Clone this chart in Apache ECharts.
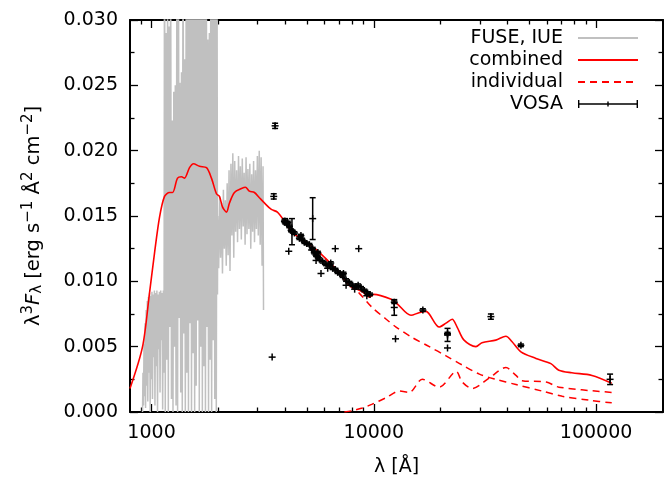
<!DOCTYPE html>
<html><head><meta charset="utf-8">
<script src="https://cdn.jsdelivr.net/npm/echarts@6/dist/echarts.min.js"></script>
<style>html,body{margin:0;padding:0;background:#fff}#c{width:664px;height:483px}</style>
</head><body><div id="c"></div>
<script>
// ---- data (wavelength in Angstrom, flux lambda^3 F_lambda) ----
const fuseIue = [
 [911,0.0000],[915,0.0030],[920,0.0005],[925,0.0052],[930,0.0012],[935,0.0068],[940,0.0003],[946,0.0078],
 [951,0.0020],[957,0.0085],[962,0.0008],[968,0.0088],[974,0.0030],[980,0.0091],[986,0.0000],[992,0.0089],
 [998,0.0025],[1004,0.0092],[1010,0.0010],[1017,0.0090],[1023,0.0042],[1030,0.0093],[1036,0.0005],[1043,0.0091],
 [1050,0.0035],[1057,0.0093],[1064,0.0000],[1071,0.0090],[1078,0.0048],[1085,0.0092],[1092,0.0015],[1100,0.0093],
 [1107,0.0055],[1115,0.0091],[1122,0.0002],[1130,0.0093],[1138,0.0030],[1144,0.0420],
 [1153,0.0000],[1162,0.0290],[1172,0.0040],[1181,0.0330],[1190,0.0000],[1200,0.0295],[1209,0.0065],[1219,0.0360],
 [1229,0.0010],[1239,0.0223],[1249,0.0000],[1259,0.0245],[1269,0.0050],[1279,0.0250],[1289,0.0005],[1300,0.0340],
 [1310,0.0000],[1321,0.0380],[1331,0.0072],[1342,0.0252],[1353,0.0015],[1364,0.0260],[1375,0.0000],[1386,0.0400],
 [1397,0.0060],[1408,0.0270],[1419,0.0000],[1431,0.0310],[1442,0.0030],[1454,0.0420],[1466,0.0000],[1477,0.0400],
 [1489,0.0068],[1501,0.0450],[1513,0.0000],[1526,0.0380],[1538,0.0045],[1550,0.0420],[1563,0.0000],[1575,0.0350],
 [1588,0.0020],[1601,0.0440],[1614,0.0070],[1627,0.0390],[1640,0.0000],[1653,0.0410],[1666,0.0050],[1680,0.0370],
 [1693,0.0000],[1707,0.0430],[1721,0.0035],[1734,0.0360],[1748,0.0000],[1762,0.0400],[1777,0.0065],[1791,0.0285],
 [1805,0.0000],[1820,0.0290],[1835,0.0040],[1849,0.0380],[1864,0.0000],[1879,0.0330],[1894,0.0055],[1910,0.0350],
 [1925,0.0010],[1940,0.0310],[1956,0.0000],[1972,0.0320],[1980,0.0090],
 [1985,0.0150],[2005,0.0110],[2025,0.0165],[2045,0.0118],[2065,0.0160],[2085,0.0106],[2105,0.0170],[2126,0.0125],
 [2147,0.0162],[2168,0.0112],[2189,0.0175],[2211,0.0120],[2232,0.0185],[2254,0.0108],[2276,0.0190],[2299,0.0135],
 [2321,0.0198],[2344,0.0118],[2367,0.0192],[2390,0.0138],[2414,0.0185],[2438,0.0130],[2462,0.0196],[2486,0.0140],
 [2510,0.0188],[2535,0.0132],[2560,0.0194],[2585,0.0142],[2610,0.0183],[2636,0.0128],[2662,0.0195],[2688,0.0136],
 [2714,0.0186],[2741,0.0140],[2768,0.0190],[2795,0.0125],[2822,0.0182],[2850,0.0138],[2878,0.0192],[2906,0.0130],
 [2935,0.0185],[2963,0.0140],[2993,0.0196],[3022,0.0135],[3052,0.0200],[3082,0.0128],[3112,0.0195],[3143,0.0112],
 [3174,0.0188],[3190,0.0078]
];
const combined = [
 [800,0.0018],[911,0.0050],[979,0.0091],[1032,0.0122],[1086,0.0149],[1144,0.0165],[1205,0.0168],[1243,0.0168],
 [1309,0.0179],[1364,0.0180],[1407,0.0179],[1482,0.0187],[1544,0.0190],[1644,0.0188],[1767,0.0187],[1860,0.0179],
 [1959,0.0167],[2021,0.0165],[2085,0.0157],[2173,0.0153],[2242,0.0160],[2360,0.0168],[2539,0.0171],[2645,0.0172],
 [2756,0.0169],[2903,0.0168],[3056,0.0164],[3219,0.0160],[3459,0.0155],[3683,0.0153],[3960,0.0146],[4295,0.0137],
 [4487,0.0135],[5517,0.0124],[6782,0.0109],[7762,0.0097],[8894,0.0092],[9559,0.0088],[10000,0.0090],[12085,0.0086],
 [12716,0.0083],[14700,0.0074],[15960,0.0076],[17150,0.0077],[19680,0.0065],[21120,0.0068],[22520,0.0071],[23700,0.0065],
 [25460,0.0055],[28800,0.0050],[30660,0.0053],[35370,0.0055],[39290,0.0058],[41790,0.0054],[45890,0.0046],[53630,0.0041],
 [62600,0.0037],[67970,0.0032],[77750,0.0030],[95800,0.0028],[117600,0.0022]
];
const individualHot = [
 [5517,0.0124],[6782,0.0109],[7762,0.0097],[8590,0.0091],[9835,0.0080],[11370,0.0071],[12590,0.0065],[14880,0.0057],
 [17770,0.0050],[21120,0.0043],[24970,0.0036],[29840,0.0029],[35370,0.0025],[43600,0.0021],[57190,0.0016],[70460,0.0012],
 [93230,0.0009],[117600,0.0007]
];
const individualCool = [
 [7370,0.0000],[8007,0.0001],[8878,0.0003],[9835,0.0006],[11370,0.0011],[13020,0.0016],[14440,0.0015],[16520,0.0025],
 [19680,0.0019],[23490,0.0031],[24970,0.0023],[27710,0.0018],[33040,0.0026],[39290,0.0034],[43600,0.0028],[46490,0.0024],
 [59620,0.0023],[67970,0.0019],[117600,0.0015]
];
const vosaLambda = [3597,3546,3488,4143,3990,4283,5308,6707,8552,5786,
 3961,4057,4171,4246,4317,4393,4626,4757,4872,4989,5130,5308,5403,5498,5589,5689,5886,6098,6310,6529,6714,6875,7048,7240,7503,7762,8031,8318,8759,9066,9378,9614,
 5498,7503,5250,6200,8200,9300,4100,4700,5600,6400,7300,8500,
 12360,12360,12520,16620,21460,21460,21460,33630,45900,115600];
const vosaFlux = [0.0219,0.0165,0.0042,0.0123,0.0146,0.0138,0.0148,0.0125,0.0125,0.0106,
 0.0146,0.0144,0.0142,0.0139,0.0138,0.0137,0.0133,0.0132,0.0130,0.0129,0.0128,0.0125,0.0122,0.0120,0.0119,0.0117,0.0115,0.0113,0.0112,0.0110,0.0109,0.0107,0.0106,0.0104,0.0101,0.0099,0.0097,0.0096,0.0095,0.0093,0.0091,0.0090,
 0.0116,0.0097,0.0124,0.0110,0.0094,0.0089,0.0145,0.0135,0.0122,0.0114,0.0106,0.0097,
 0.0084,0.0080,0.0056,0.0078,0.0059,0.0049,0.0060,0.0073,0.0051,0.0025];
const vosaErr = [0.0002,0.0002,0,0,0.0002,0.0010,0.0016,0,0,0,
 0.0001,0.0001,0.0001,0.0001,0.0001,0.0001,0.0001,0.0001,0.0001,0.0001,0.0001,0.0001,0.0001,0.0001,0.0001,0.0001,0.0001,0.0001,0.0001,0.0001,0.0001,0.0001,0.0001,0.0001,0.0001,0.0001,0.0001,0.0001,0.0001,0.0001,0.0001,0.0001,
 0,0,0,0,0,0,0.0001,0.0001,0.0001,0.0001,0.0001,0.0001,
 0.0001,0.0006,0,0.0001,0.0005,0,0.0001,0.0002,0.0001,0.0004];
const xMajorTicks = [1000,10000,100000];
const xMinorTicks = [900,2000,3000,4000,5000,6000,7000,8000,9000,20000,30000,40000,50000,60000,70000,80000,90000,200000];

// ---- chart ----
const FONT = 'DejaVu Sans';
const TICK = '#000';
const chart = echarts.init(document.getElementById('c'), null, {renderer:'canvas'});
const frame = {show:true, onZero:false, lineStyle:{color:'#000', width:2}};
const noLine = {show:false, onZero:false};
const xBase = {type:'log', logBase:10, min:800, max:200000, gridIndex:0, splitLine:{show:false}, minorTick:{show:false}, minorSplitLine:{show:false}};
const majorTick = {show:true, inside:true, length:8, customValues:xMajorTicks, lineStyle:{color:TICK, width:1.3}};
const minorTickX = {show:true, inside:true, length:4.5, customValues:xMinorTicks, lineStyle:{color:TICK, width:1.3}};
const yBase = {type:'value', min:0, max:0.03, interval:0.005, splitLine:{show:false}, axisLine:frame,
  axisTick:{show:true, inside:true, length:8, lineStyle:{color:TICK, width:1.3}},
  minorTick:{show:true, splitNumber:2, length:4.5, lineStyle:{color:TICK, width:1.3}}};

const vosaData = vosaLambda.map((l,i)=>[l, vosaFlux[i], vosaFlux[i]-vosaErr[i], vosaFlux[i]+vosaErr[i]]);
const noSym = {opacity:0};

chart.setOption({
  animation:false,
  backgroundColor:'#fff',
  grid:{left:130, right:1, top:20, bottom:71},
  legend:{
    orient:'vertical', align:'right', right:20, top:22, itemWidth:60, itemHeight:8, itemGap:0,
    textStyle:{fontFamily:FONT, fontSize:19, color:'#000', lineHeight:22, padding:[0,10,0,0]},
    data:[
      {name:'FUSE, IUE', itemStyle:noSym},
      {name:'combined', itemStyle:noSym},
      {name:'individual', itemStyle:noSym},
      {name:'VOSA', icon:'path://M0,3.3h60v1.4h-60z M0,0h1.4v8h-1.4z M29.3,1.5h1.4v5h-1.4z M58.6,0h1.4v8h-1.4z', itemStyle:{color:'#000'}}
    ]
  },
  xAxis:[
    Object.assign({}, xBase, {position:'bottom', axisLine:frame, axisTick:majorTick,
      axisLabel:{customValues:xMajorTicks, formatter:v=>String(Math.round(v)), margin:12, color:'#000', fontFamily:FONT, fontSize:19},
      name:'λ [Å]', nameLocation:'middle', nameGap:46, nameTextStyle:{fontFamily:FONT, fontSize:19, color:'#000'}}),
    Object.assign({}, xBase, {position:'top', axisLine:frame, axisTick:majorTick, axisLabel:{show:false}}),
    Object.assign({}, xBase, {position:'bottom', axisLine:noLine, axisTick:minorTickX, axisLabel:{show:false}}),
    Object.assign({}, xBase, {position:'top', axisLine:noLine, axisTick:minorTickX, axisLabel:{show:false}})
  ],
  yAxis:[
    Object.assign({}, yBase, {position:'left',
      axisLabel:{formatter:v=>v.toFixed(3), margin:12, color:'#000', fontFamily:FONT, fontSize:19},
      name:'{n|λ}{sup|3}{it|F}{sub|λ}{n| [erg s}{sup|−1}{n| Å}{sup|2}{n| cm}{sup|−2}{n|]}',
      nameLocation:'middle', nameGap:84,
      nameTextStyle:{fontFamily:FONT, fontSize:19, color:'#000',
        rich:{
          n:{fontFamily:FONT, fontSize:19.5, color:'#000'},
          it:{fontFamily:FONT, fontSize:19.5, color:'#000', fontStyle:'italic'},
          sup:{fontFamily:FONT, fontSize:15, color:'#000', padding:[0,0,10,0]},
          sub:{fontFamily:FONT, fontSize:15, color:'#000', padding:[8,0,0,0]}
        }}}),
    Object.assign({}, yBase, {position:'right', axisLabel:{show:false}})
  ],
  series:[
    {name:'FUSE, IUE', type:'line', xAxisIndex:0, yAxisIndex:0, data:fuseIue, symbol:'none', clip:true,
      lineStyle:{color:'#c0c0c0', width:1.5}, itemStyle:{color:'#c0c0c0'}, z:1},
    {name:'individual', type:'line', xAxisIndex:0, yAxisIndex:0, data:individualHot, symbol:'none', clip:true, smooth:0.3,
      lineStyle:{color:'#ff0000', width:1.5, type:[7,5]}, itemStyle:{color:'#ff0000'}, z:2},
    {name:'individual', type:'line', xAxisIndex:0, yAxisIndex:0, data:individualCool, symbol:'none', clip:true, smooth:0.3,
      lineStyle:{color:'#ff0000', width:1.5, type:[7,5]}, itemStyle:{color:'#ff0000'}, z:2},
    {name:'combined', type:'line', xAxisIndex:0, yAxisIndex:0, data:combined, symbol:'none', clip:true, smooth:0.3,
      lineStyle:{color:'#ff0000', width:1.6}, itemStyle:{color:'#ff0000'}, z:3},
    {name:'VOSA', type:'custom', xAxisIndex:0, yAxisIndex:0, data:vosaData, clip:true,
      encode:{x:0, y:[1,2,3]}, itemStyle:{color:'#000'}, z:4,
      renderItem:function(params, api){
        const x = api.value(0);
        const p = api.coord([x, api.value(1)]);
        const lo = api.coord([x, api.value(2)]);
        const hi = api.coord([x, api.value(3)]);
        const s = {stroke:'#000', lineWidth:1.5, fill:null};
        const ch = [
          {type:'line', shape:{x1:p[0]-3.5, y1:p[1], x2:p[0]+3.5, y2:p[1]}, style:s},
          {type:'line', shape:{x1:p[0], y1:p[1]-3.5, x2:p[0], y2:p[1]+3.5}, style:s}
        ];
        if (Math.abs(lo[1]-hi[1]) > 0.5) {
          ch.push({type:'line', shape:{x1:p[0], y1:lo[1], x2:p[0], y2:hi[1]}, style:s});
          ch.push({type:'line', shape:{x1:p[0]-3, y1:lo[1], x2:p[0]+3, y2:lo[1]}, style:s});
          ch.push({type:'line', shape:{x1:p[0]-3, y1:hi[1], x2:p[0]+3, y2:hi[1]}, style:s});
        }
        return {type:'group', children:ch};
      }}
  ]
});
</script>
</body></html>
